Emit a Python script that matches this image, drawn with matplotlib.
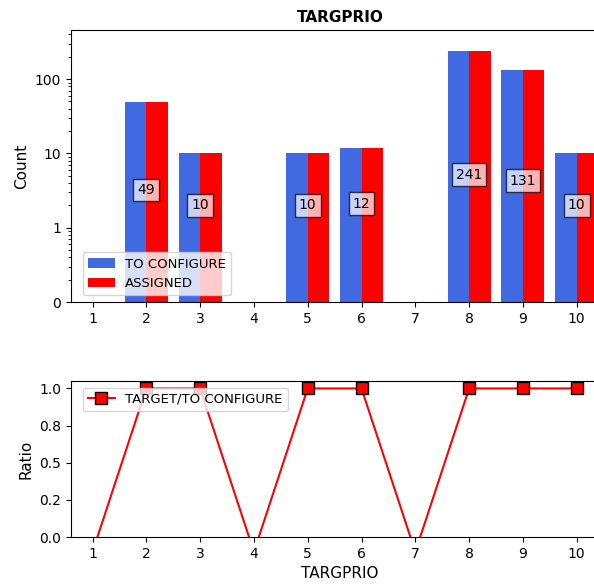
import numpy as np
import matplotlib
matplotlib.use("Agg")
import matplotlib.pyplot as plt
from matplotlib.ticker import FormatStrFormatter, NullFormatter

# data
prio = [1, 2, 3, 4, 5, 6, 7, 8, 9, 10]
to_configure = [0, 49, 10, 0, 10, 12, 0, 241, 131, 10]
assigned = [0, 49, 10, 0, 10, 12, 0, 241, 131, 10]
ratio = [-0.1, 1.0, 1.0, -0.1, 1.0, 1.0, -0.1, 1.0, 1.0, 1.0]
count_ticks = [0.1, 1, 10, 100]
count_ticklabels = ["0", "1", "10", "100"]

BAR_WIDTH = 0.4
x = np.array(prio)

fig = plt.figure(figsize=(5.94, 5.86), dpi=100)
ax1 = fig.add_axes([71 / 594, 0.4846, 538 / 594, 0.4642])
ax2 = fig.add_axes([71 / 594, 0.0836, 538 / 594, 0.2662])

# Counts on a log axis, bottom of axis stands in for 0
ax1.bar(x - BAR_WIDTH / 2, to_configure, width=BAR_WIDTH, color="royalblue",
        label="TO CONFIGURE")
ax1.bar(x + BAR_WIDTH / 2, assigned, width=BAR_WIDTH, color="red",
        label="ASSIGNED")
ax1.set_yscale("log")
ax1.set_ylim(0.1, 1.9 * max(to_configure))
ax1.set_yticks(count_ticks)
ax1.set_yticklabels(count_ticklabels)
ax1.yaxis.set_minor_formatter(NullFormatter())
ax1.set_xlim(0.6, 10.6)
ax1.set_xticks(prio)
ax1.set_ylabel("Count", fontsize=11)
ax1.set_title("TARGPRIO", fontsize=11, fontweight="bold")

for xi, v in zip(x, to_configure):
    if v > 0:
        ax1.text(xi, v ** 0.3, str(v), ha="center", va="center", fontsize=10,
                 bbox=dict(facecolor="white", alpha=0.7, edgecolor="black", pad=3))

ax1.legend(loc="lower left", bbox_to_anchor=(0.01, 0.0), fontsize=9.5)

# Ratio
ax2.plot(x, ratio, color="red", marker="s", markersize=9, markerfacecolor="red",
         markeredgecolor="black", label="TARGET/TO CONFIGURE")
ax2.set_ylim(0, 1.05)
ax2.set_xlim(0.6, 10.6)
ax2.set_xticks(prio)
ax2.set_yticks([0, 0.25, 0.5, 0.75, 1.0])
ax2.yaxis.set_major_formatter(FormatStrFormatter("%.1f"))
ax2.set_ylabel("Ratio", fontsize=11)
ax2.set_xlabel("TARGPRIO", fontsize=11)
ax2.legend(loc="upper left", bbox_to_anchor=(0.01, 1.0), fontsize=9.5)

fig.savefig("out.png", dpi=100)
